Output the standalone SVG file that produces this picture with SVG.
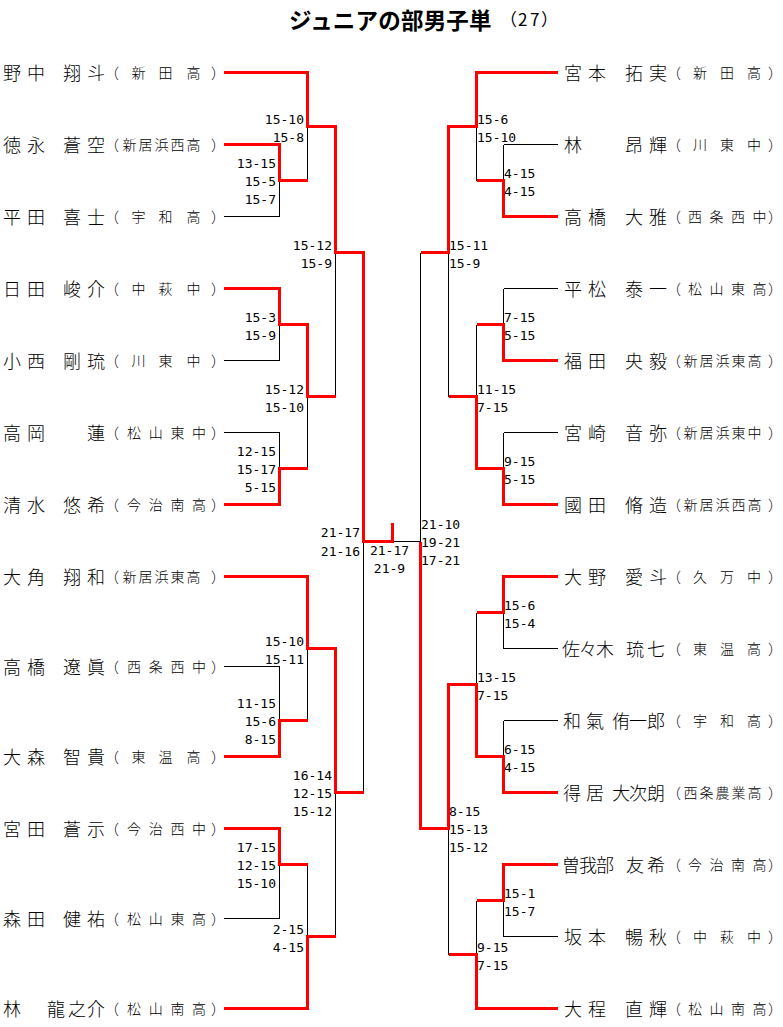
<svg xmlns="http://www.w3.org/2000/svg" width="783" height="1027" viewBox="0 0 783 1027">
<style>
.nm{font-family:'Noto Sans CJK JP',sans-serif;font-size:18px;font-weight:300;fill:#000}
.sc{font-family:'Noto Sans CJK JP',sans-serif;font-size:14px;font-weight:300;fill:#000}
.s{font-family:'DejaVu Sans Mono',monospace;font-size:13px;fill:#000}
.l{text-anchor:end}
.blk{fill:none;stroke:#000;stroke-width:1}
.red{fill:none;stroke:#ff0000;stroke-width:3;stroke-linejoin:miter}
</style>
<rect width="783" height="1027" fill="#fff"/>
<g id="title">
<text x="289" y="29" font-family="'Noto Sans CJK JP',sans-serif" font-size="22.5" font-weight="bold" letter-spacing="0.2">ジュニアの部男子単</text>
<text x="500 518 530 541" y="26" font-family="'Noto Sans CJK JP',sans-serif" font-size="17">（27）</text>
</g>
<g id="connectors" transform="translate(0.5,0.5)" shape-rendering="crispEdges">
<path class="blk" d="M223 72H307M223 144H279M223 216H279M223 288H279M223 360H279M223 432H279M223 504H279M223 576H307M223 666H279M223 756H279M223 828H279M223 918H279M223 1008H307
M279 144V216M279 288V360M279 432V504M279 666V756M279 828V918
M307 72V180M307 324V468M307 576V720M307 864V1008
M335 126V396M335 648V936M363 252V792
M279 180H307M279 324H307M279 468H307M279 720H307M279 864H307
M307 126H335M307 396H335M307 648H335M307 936H335
M335 252H363M335 792H363M363 541H420"/>
<path class="blk" d="M557 72H476M557 144H503M557 216H503M557 288H503M557 360H503M557 432H503M557 504H503M557 576H503M557 648H503M557 720H503M557 792H503M557 864H503M557 936H503M557 1008H476
M503 144V216M503 288V360M503 432V504M503 576V648M503 720V792M503 864V936
M476 72V180M476 324V468M476 612V756M476 900V1008
M448 126V396M448 684V954M420 252V828
M476 180H503M476 324H503M476 468H503M476 612H503M476 756H503M476 900H503
M448 126H476M448 396H476M448 684H476M448 954H476
M420 252H448M420 828H448"/>
<path class="red" d="M223 72H307V126H335V252H363V541H392V522"/>
<path class="red" d="M223 144H279V180H307"/>
<path class="red" d="M223 288H279V324H307V396H335"/>
<path class="red" d="M223 504H279V468H307"/>
<path class="red" d="M223 576H307V648H335V792H363"/>
<path class="red" d="M223 756H279V720H307"/>
<path class="red" d="M223 828H279V864H307"/>
<path class="red" d="M223 1008H307V936H335"/>
<path class="red" d="M557 72H476V126H448V252H420"/>
<path class="red" d="M557 216H503V180H476"/>
<path class="red" d="M557 360H503V324H476"/>
<path class="red" d="M557 504H503V468H476V396H448"/>
<path class="red" d="M557 576H503V612H476"/>
<path class="red" d="M557 792H503V756H476V684H448V828H420V541"/>
<path class="red" d="M557 864H503V900H476"/>
<path class="red" d="M557 1008H476V954H448"/>
</g>
<g id="scores">
<g class="s l">
<text x="276" y="168">13-15</text><text x="276" y="186">15-5</text><text x="276" y="204">15-7</text>
<text x="304" y="124">15-10</text><text x="304" y="142">15-8</text>
<text x="276" y="322">15-3</text><text x="276" y="340">15-9</text>
<text x="276" y="456">12-15</text><text x="276" y="474">15-17</text><text x="276" y="492">5-15</text>
<text x="304" y="394">15-12</text><text x="304" y="412">15-10</text>
<text x="332" y="250">15-12</text><text x="332" y="268">15-9</text>
<text x="360" y="537">21-17</text><text x="360" y="556">21-16</text>
<text x="276" y="708">11-15</text><text x="276" y="726">15-6</text><text x="276" y="744">8-15</text>
<text x="304" y="646">15-10</text><text x="304" y="664">15-11</text>
<text x="276" y="852">17-15</text><text x="276" y="870">12-15</text><text x="276" y="888">15-10</text>
<text x="304" y="934">2-15</text><text x="304" y="952">4-15</text>
<text x="332" y="780">16-14</text><text x="332" y="798">12-15</text><text x="332" y="816">15-12</text>
</g>
<g class="s" text-anchor="middle">
<text x="389.5" y="555">21-17</text><text x="389.5" y="573">21-9</text>
</g>
<g class="s">
<text x="477" y="124">15-6</text><text x="477" y="142">15-10</text>
<text x="504" y="178">4-15</text><text x="504" y="196">4-15</text>
<text x="449" y="250">15-11</text><text x="449" y="268">15-9</text>
<text x="504" y="322">7-15</text><text x="504" y="340">5-15</text>
<text x="477" y="394">11-15</text><text x="477" y="412">7-15</text>
<text x="504" y="466">9-15</text><text x="504" y="484">5-15</text>
<text x="421" y="529">21-10</text><text x="421" y="547">19-21</text><text x="421" y="565">17-21</text>
<text x="504" y="610">15-6</text><text x="504" y="628">15-4</text>
<text x="477" y="682">13-15</text><text x="477" y="700">7-15</text>
<text x="504" y="754">6-15</text><text x="504" y="772">4-15</text>
<text x="449" y="816">8-15</text><text x="449" y="834">15-13</text><text x="449" y="852">15-12</text>
<text x="504" y="898">15-1</text><text x="504" y="916">15-7</text>
<text x="477" y="952">9-15</text><text x="477" y="970">7-15</text>
</g>
</g>
<g id="L01" transform="translate(0,72)"><text class="nm" x="3 27 45 63 87" y="8">野中　翔斗</text><text class="sc" x="105 131.5 158.5 186.5 211" y="6">（新田高）</text></g>
<g id="L02" transform="translate(0,144)"><text class="nm" x="3 27 45 63 87" y="8">徳永　蒼空</text><text class="sc" x="105 122.5 138.5 154.5 170.5 186.5 211" y="6">（新居浜西高）</text></g>
<g id="L03" transform="translate(0,216)"><text class="nm" x="3 27 45 63 87" y="8">平田　喜士</text><text class="sc" x="105 131.5 158.5 186.5 211" y="6">（宇和高）</text></g>
<g id="L04" transform="translate(0,288)"><text class="nm" x="3 27 45 63 87" y="8">日田　峻介</text><text class="sc" x="105 131.5 158.5 186.5 211" y="6">（中萩中）</text></g>
<g id="L05" transform="translate(0,360)"><text class="nm" x="3 27 45 63 87" y="8">小西　剛琉</text><text class="sc" x="105 131.5 158.5 186.5 211" y="6">（川東中）</text></g>
<g id="L06" transform="translate(0,432)"><text class="nm" x="3 27 57 87" y="8">高岡　蓮</text><text class="sc" x="105 127 148.7 170.4 192 211" y="6">（松山東中）</text></g>
<g id="L07" transform="translate(0,504)"><text class="nm" x="3 27 45 63 87" y="8">清水　悠希</text><text class="sc" x="105 127 148.7 170.4 192 211" y="6">（今治南高）</text></g>
<g id="L08" transform="translate(0,576)"><text class="nm" x="3 27 45 63 87" y="8">大角　翔和</text><text class="sc" x="105 122.5 138.5 154.5 170.5 186.5 211" y="6">（新居浜東高）</text></g>
<g id="L09" transform="translate(0,666)"><text class="nm" x="3 27 45 63 87" y="8">高橋　遼眞</text><text class="sc" x="105 127 148.7 170.4 192 211" y="6">（西条西中）</text></g>
<g id="L10" transform="translate(0,756)"><text class="nm" x="3 27 45 63 87" y="8">大森　智貴</text><text class="sc" x="105 131.5 158.5 186.5 211" y="6">（東温高）</text></g>
<g id="L11" transform="translate(0,828)"><text class="nm" x="3 27 45 63 87" y="8">宮田　蒼示</text><text class="sc" x="105 127 148.7 170.4 192 211" y="6">（今治西中）</text></g>
<g id="L12" transform="translate(0,918)"><text class="nm" x="3 27 45 63 87" y="8">森田　健祐</text><text class="sc" x="105 127 148.7 170.4 192 211" y="6">（松山東高）</text></g>
<g id="L13" transform="translate(0,1008)"><text class="nm" x="3 25 47 68 87" y="8">林　龍之介</text><text class="sc" x="105 127 148.7 170.4 192 211" y="6">（松山南高）</text></g>
<g id="R01" transform="translate(561,72)"><text class="nm" x="3 27 45 64 88" y="8">宮本　拓実</text><text class="sc" x="106 132 159 186 207" y="6">（新田高）</text></g>
<g id="R02" transform="translate(561,144)"><text class="nm" x="3 33 64 88" y="8">林　昂輝</text><text class="sc" x="106 132 159 186 207" y="6">（川東中）</text></g>
<g id="R03" transform="translate(561,216)"><text class="nm" x="3 27 45 64 88" y="8">高橋　大雅</text><text class="sc" x="106 127 148.5 170 191.5 207" y="6">（西条西中）</text></g>
<g id="R04" transform="translate(561,288)"><text class="nm" x="3 27 45 64 88" y="8">平松　泰一</text><text class="sc" x="106 127 148.5 170 191.5 207" y="6">（松山東高）</text></g>
<g id="R05" transform="translate(561,360)"><text class="nm" x="3 27 45 64 88" y="8">福田　央毅</text><text class="sc" x="106 122.5 138.5 154.5 170.5 186.5 207" y="6">（新居浜東高）</text></g>
<g id="R06" transform="translate(561,432)"><text class="nm" x="3 27 45 64 88" y="8">宮崎　音弥</text><text class="sc" x="106 122.5 138.5 154.5 170.5 186.5 207" y="6">（新居浜東中）</text></g>
<g id="R07" transform="translate(561,504)"><text class="nm" x="3 27 45 64 88" y="8">國田　脩造</text><text class="sc" x="106 122.5 138.5 154.5 170.5 186.5 207" y="6">（新居浜西高）</text></g>
<g id="R08" transform="translate(561,576)"><text class="nm" x="3 27 45 64 88" y="8">大野　愛斗</text><text class="sc" x="106 132 159 186 207" y="6">（久万中）</text></g>
<g id="R09" transform="translate(561,648)"><text class="nm" x="1 18 35 50 65 86" y="8">佐々木　琉七</text><text class="sc" x="106 132 159 186 207" y="6">（東温高）</text></g>
<g id="R10" transform="translate(561,720)"><text class="nm" x="2 25 40 51 68 86" y="8">和氣　侑一郎</text><text class="sc" x="106 132 159 186 207" y="6">（宇和高）</text></g>
<g id="R11" transform="translate(561,792)"><text class="nm" x="2 25 40 51 68 86" y="8">得居　大次朗</text><text class="sc" x="106 122.5 138.5 154.5 170.5 186.5 207" y="6">（西条農業高）</text></g>
<g id="R12" transform="translate(561,864)"><text class="nm" x="1 18 35 50 65 86" y="8">曽我部　友希</text><text class="sc" x="106 127 148.5 170 191.5 207" y="6">（今治南高）</text></g>
<g id="R13" transform="translate(561,936)"><text class="nm" x="3 27 45 64 88" y="8">坂本　暢秋</text><text class="sc" x="106 132 159 186 207" y="6">（中萩中）</text></g>
<g id="R14" transform="translate(561,1008)"><text class="nm" x="3 27 45 64 88" y="8">大程　直輝</text><text class="sc" x="106 127 148.5 170 191.5 207" y="6">（松山南高）</text></g>
</svg>
